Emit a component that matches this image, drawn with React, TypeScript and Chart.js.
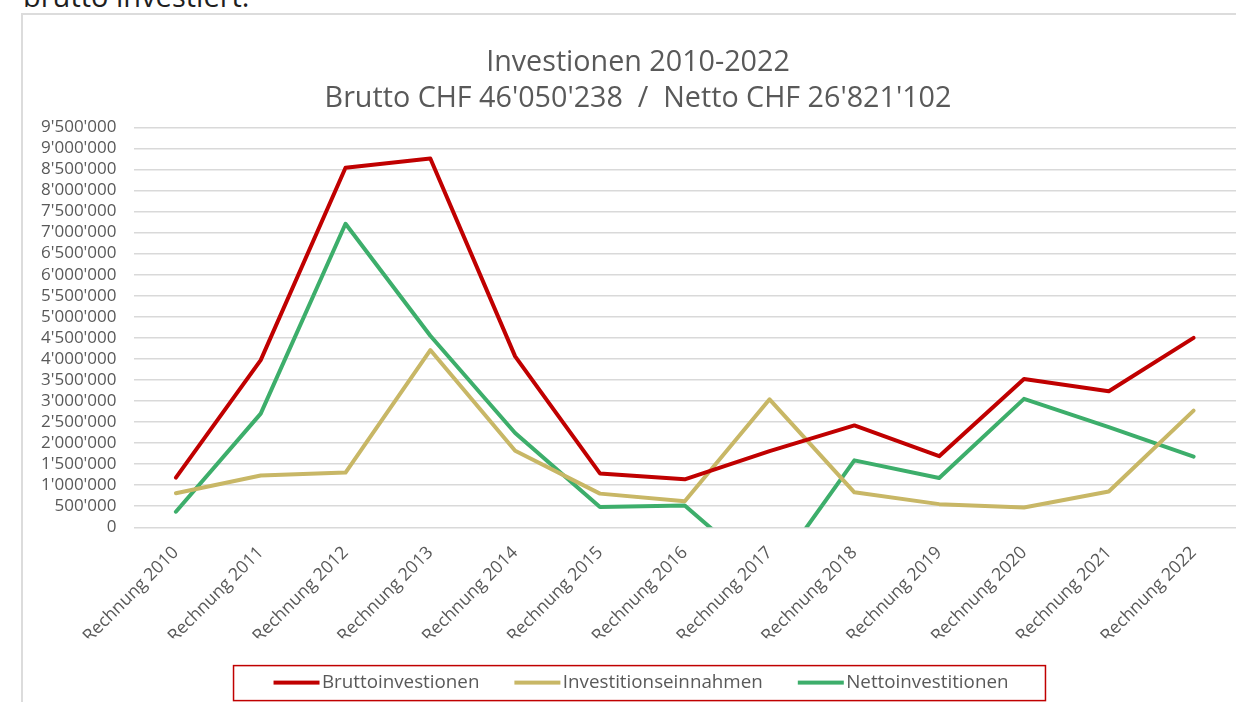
import React, { useEffect, useRef } from "react";
import { Chart, registerables } from "chart.js";

Chart.register(...registerables);

const categories = [
  "Rechnung 2010", "Rechnung 2011", "Rechnung 2012", "Rechnung 2013", "Rechnung 2014",
  "Rechnung 2015", "Rechnung 2016", "Rechnung 2017", "Rechnung 2018", "Rechnung 2019",
  "Rechnung 2020", "Rechnung 2021", "Rechnung 2022",
];
const bruttoValues = [1180000, 3970000, 8540000, 8760000, 4060000, 1280000, 1140000, 1810000, 2420000, 1690000, 3520000, 3230000, 4500000];
const einnahmenValues = [810000, 1230000, 1300000, 4210000, 1820000, 800000, 620000, 3040000, 830000, 550000, 470000, 850000, 2770000];
const nettoValues = [370000, 2700000, 7210000, 4550000, 2240000, 480000, 520000, -1230000, 1590000, 1170000, 3050000, 2380000, 1680000];
const seriesNames = ["Bruttoinvestionen", "Investitionseinnahmen", "Nettoinvestitionen"];
const seriesColors = ["#C00000", "#C8B766", "#3DAE6B"];
const titleLines = ["Investionen 2010-2022", "Brutto CHF 46'050'238  /  Netto CHF 26'821'102"];
const yMin = 0;
const yMax = 9500000;
const yStep = 500000;

const FONT = "'Open Sans', 'DejaVu Sans', sans-serif";
const TEXT = "#595959";

const fmt = (v: number) => String(Math.round(v)).replace(/\B(?=(\d{3})+(?!\d))/g, "'");

const legendShift = 12;
const titleShift = 9;
const legendFrame = {
  id: "legendFrame",
  afterLayout(chart: any) {
    const lg = chart.legend;
    if (lg) {
      lg.left += legendShift;
      lg.right += legendShift;
    }
    const tb = chart.titleBlock;
    if (tb) {
      tb.left += titleShift;
      tb.right += titleShift;
    }
  },
  afterDraw(chart: any) {
    const lg = chart.legend;
    const hb = lg && lg.legendHitBoxes;
    if (!hb || !hb.length) return;
    const ctx = chart.ctx;
    ctx.save();
    hb.forEach((b: any, i: number) => {
      const cy = b.top + b.height / 2;
      ctx.fillStyle = seriesColors[i];
      ctx.fillRect(b.left, cy - 2, 46, 4);
    });
    const first = hb[0];
    const last = hb[hb.length - 1];
    const cy = first.top + first.height / 2;
    ctx.strokeStyle = "#C00000";
    ctx.lineWidth = 1.5;
    const x0 = first.left - 40;
    const x1 = last.left + last.width + 37;
    ctx.strokeRect(x0, cy - 17, x1 - x0, 35);
    ctx.restore();
  },
};

export default function App() {
  const ref = useRef<HTMLCanvasElement | null>(null);

  useEffect(() => {
    if (!ref.current) return;
    const values = [bruttoValues, einnahmenValues, nettoValues];
    const chart = new Chart(ref.current, {
      type: "line",
      data: {
        labels: categories,
        datasets: values.map((d, i) => ({
          label: seriesNames[i],
          data: d,
          borderColor: seriesColors[i],
          backgroundColor: seriesColors[i],
          borderWidth: 4,
          pointRadius: 0,
          pointHoverRadius: 0,
          tension: 0,
          fill: false,
          borderJoinStyle: "round" as const,
          borderCapStyle: "round" as const,
        })),
      },
      options: {
        responsive: false,
        animation: false,
        devicePixelRatio: 1,
        layout: { padding: 0 },
        plugins: {
          tooltip: { enabled: false },
          title: {
            display: true,
            text: titleLines,
            color: TEXT,
            font: { family: FONT, size: 28.7, weight: "normal", lineHeight: 1.26 },
            padding: { top: 31, bottom: 10 },
          },
          legend: {
            display: true,
            position: "bottom",
            labels: {
              color: TEXT,
              font: { family: FONT, size: 18.8 },
              boxWidth: 39,
              boxHeight: 4,
              padding: 35,
              generateLabels(c: any) {
                const items = (Chart.defaults.plugins.legend.labels as any).generateLabels(c);
                return items.map((it: any) => ({ ...it, lineWidth: 0, fillStyle: "rgba(0,0,0,0)" }));
              },
            },
          },
        },
        scales: {
          x: {
            offset: true,
            grid: { display: false },
            border: { display: false },
            ticks: {
              color: TEXT,
              font: { family: FONT, size: 17.6 },
              minRotation: 45,
              maxRotation: 45,
              autoSkip: false,
              padding: 7,
              labelOffset: 0,
            },
            afterFit(scale: any) {
              scale.height = 110.9;
            },
          },
          y: {
            min: yMin,
            max: yMax,
            grid: { color: "#d9d9d9", lineWidth: 1.5, drawTicks: false },
            border: { display: false },
            ticks: {
              stepSize: yStep,
              autoSkip: false,
              color: TEXT,
              font: { family: FONT, size: 17 },
              padding: 17,
              callback: (v: any) => fmt(Number(v)),
            },
            afterFit(scale: any) {
              scale.width = 111.5;
            },
          },
        },
      },
      plugins: [legendFrame],
    });
    return () => chart.destroy();
  }, []);

  return (
    <div style={{ position: "fixed", left: 0, top: 0, width: 1236, height: 702, overflow: "hidden", background: "#fff" }}>
      <div
        style={{
          position: "absolute",
          left: 23,
          top: -24,
          fontFamily: FONT,
          fontSize: 29,
          lineHeight: "40px",
          color: "#1f1f1f",
          whiteSpace: "nowrap",
        }}
      >
        brutto investiert.
      </div>
      <div
        style={{
          position: "absolute",
          left: 21,
          top: 13,
          width: 1400,
          height: 800,
          borderLeft: "2px solid #dcdcdc",
          borderTop: "2px solid #dcdcdc",
        }}
      />
      <canvas
        ref={ref}
        width={1214}
        height={688}
        style={{ position: "absolute", left: 22, top: 14, width: 1214, height: 688 }}
      />
    </div>
  );
}
